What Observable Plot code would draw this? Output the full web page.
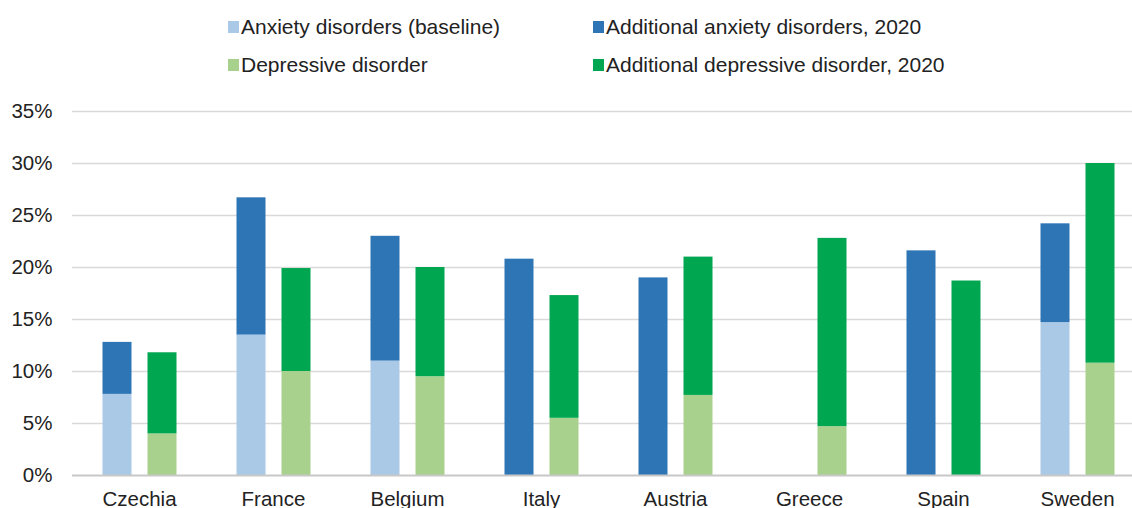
<!DOCTYPE html>
<html>
<head>
<meta charset="utf-8">
<script src="https://cdn.jsdelivr.net/npm/d3@7"></script>
<script src="https://cdn.jsdelivr.net/npm/@observablehq/plot@0.6"></script>
<style>
  html, body { margin: 0; padding: 0; background: #fff; }
  body { width: 1132px; height: 508px; overflow: hidden; font-family: "Liberation Sans", Arial, sans-serif; color: #222; }
  #legend { position: relative; height: 90px; }
  .item { position: absolute; display: flex; align-items: center; font-size: 21px; white-space: nowrap; }
  .sw { width: 11px; height: 12px; margin-right: 2px; }
</style>
</head>
<body>
<div id="legend"></div>
<div id="chart"></div>
<script>
const countries = ["Czechia", "France", "Belgium", "Italy", "Austria", "Greece", "Spain", "Sweden"];
const anxietyBaseline = [7.8, 13.5, 11.0, 0, 0, 0, 0, 14.7];
const anxietyAdditional = [5.0, 13.2, 12.0, 20.8, 19.0, 0, 21.6, 9.5];
const depressiveBaseline = [4.0, 10.0, 9.5, 5.5, 7.7, 4.7, 0, 10.8];
const depressiveAdditional = [7.8, 9.9, 10.5, 11.8, 13.3, 18.1, 18.7, 19.2];
const seriesNames = ["Anxiety disorders (baseline)", "Additional anxiety disorders, 2020", "Depressive disorder", "Additional depressive disorder, 2020"];
const seriesColors = ["#a9c9e7", "#2e75b6", "#a9d18e", "#00a650"];
const yTicks = [0, 5, 10, 15, 20, 25, 30, 35];

// legend (2 rows x 2 columns)
const legendPos = [[228, 27], [593, 27], [228, 65], [593, 65]];
const legend = d3.select("#legend");
seriesNames.forEach((name, i) => {
  const it = legend.append("div").attr("class", "item")
    .style("left", legendPos[i][0] + "px")
    .style("top", (legendPos[i][1] - 13) + "px")
    .style("height", "26px");
  it.append("div").attr("class", "sw").style("background", seriesColors[i]);
  it.append("span").text(name);
});

const anxiety = [];
const depressive = [];
countries.forEach((c, i) => {
  anxiety.push({country: c, series: seriesNames[0], value: anxietyBaseline[i]});
  anxiety.push({country: c, series: seriesNames[1], value: anxietyAdditional[i]});
  depressive.push({country: c, series: seriesNames[2], value: depressiveBaseline[i]});
  depressive.push({country: c, series: seriesNames[3], value: depressiveAdditional[i]});
});

const chart = Plot.plot({
  width: 1132,
  height: 418,
  marginLeft: 72,
  marginRight: 0,
  marginTop: 21,
  marginBottom: 33,
  style: {fontFamily: "Liberation Sans, Arial, sans-serif", fontSize: "20.5px", color: "#222", background: "#fff", overflow: "visible"},
  x: {domain: countries, range: [71.5, 1143.5], padding: 0},
  y: {domain: [0, 35]},
  color: {domain: seriesNames, range: seriesColors},
  marks: [
    Plot.ruleY(yTicks.filter(d => d > 0), {stroke: "#d9d9d9", strokeWidth: 1.5}),
    Plot.barY(anxiety, {x: "country", y: "value", fill: "series", order: seriesNames, insetLeft: 30.5, insetRight: 74.5}),
    Plot.barY(depressive, {x: "country", y: "value", fill: "series", order: seriesNames, insetLeft: 75.5, insetRight: 29.5}),
    Plot.ruleY([0], {stroke: "#c8c8c8", strokeWidth: 2}),
    Plot.axisY({ticks: yTicks, tickSize: 0, tickPadding: 20, tickFormat: d => d + "%", label: null}),
    Plot.axisX({tickSize: 0, tickPadding: 16, label: null})
  ]
});
document.getElementById("chart").appendChild(chart);
</script>
</body>
</html>
